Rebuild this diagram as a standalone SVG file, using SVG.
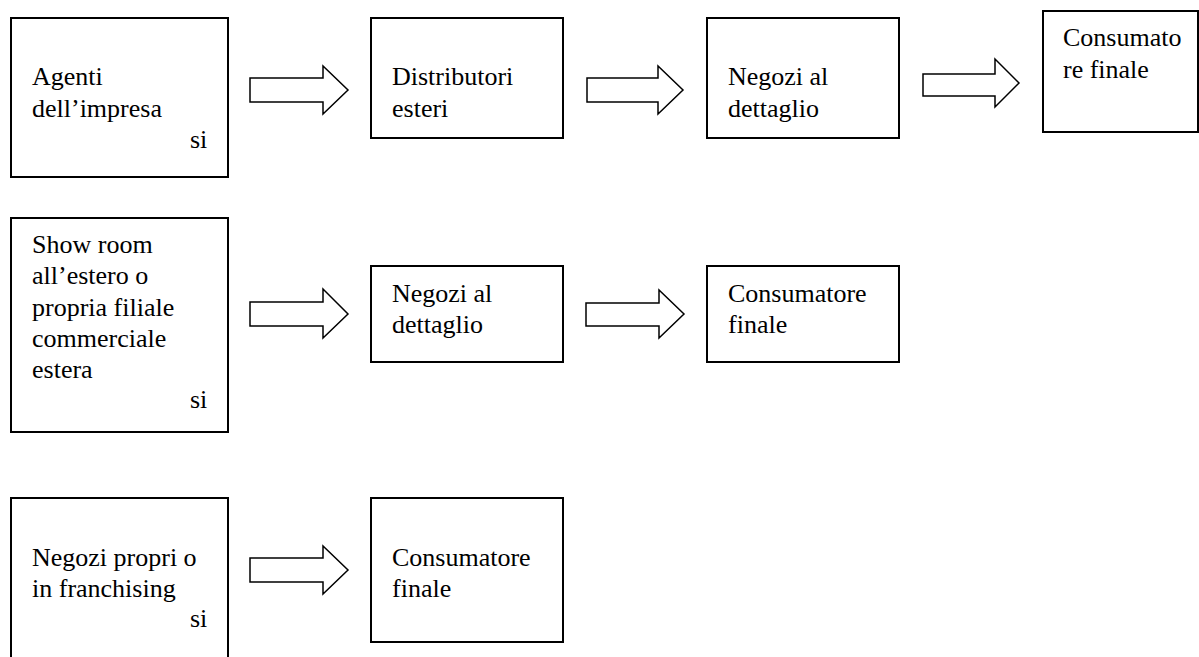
<svg xmlns="http://www.w3.org/2000/svg" width="1199" height="657" viewBox="0 0 1199 657">
<style>
.box{fill:#fff;stroke:#000;stroke-width:2}
.arr{fill:#fff;stroke:#000;stroke-width:1.5;stroke-linejoin:miter}
text{font-family:"Times New Roman","Liberation Serif",Tinos,"Noto Serif","DejaVu Serif",FreeSerif,serif;font-size:26px;fill:#000}
</style>
<rect x="0" y="0" width="1199" height="657" fill="#fff"/>
<g id="n1"><rect class="box" x="11" y="18" width="217" height="159"/><text x="32" y="85">Agenti</text><text x="32" y="117">dell’impresa</text><text x="190" y="148">si</text></g>
<g id="n2"><rect class="box" x="371" y="18" width="192" height="120"/><text x="392" y="85">Distributori</text><text x="392" y="117">esteri</text></g>
<g id="n3"><rect class="box" x="707" y="18" width="192" height="120"/><text x="728" y="85">Negozi al</text><text x="728" y="117">dettaglio</text></g>
<g id="n4"><rect class="box" x="1043" y="11" width="155" height="121"/><text x="1063" y="46">Consumato</text><text x="1063" y="78">re finale</text></g>
<g id="n5"><rect class="box" x="11" y="218" width="217" height="214"/><text x="32" y="253">Show room</text><text x="32" y="284">all’estero o</text><text x="32" y="316">propria filiale</text><text x="32" y="347">commerciale</text><text x="32" y="378">estera</text><text x="190" y="408">si</text></g>
<g id="n6"><rect class="box" x="371" y="266" width="192" height="96"/><text x="392" y="302">Negozi al</text><text x="392" y="333">dettaglio</text></g>
<g id="n7"><rect class="box" x="707" y="266" width="192" height="96"/><text x="728" y="302">Consumatore</text><text x="728" y="333">finale</text></g>
<g id="n8"><rect class="box" x="11" y="498" width="217" height="200"/><text x="32" y="566">Negozi propri o</text><text x="32" y="597">in franchising</text><text x="190" y="627">si</text></g>
<g id="n9"><rect class="box" x="371" y="498" width="192" height="144"/><text x="392" y="566">Consumatore</text><text x="392" y="597">finale</text></g>
<g id="connectors">
<polygon class="arr" points="250,78 323,78 323,66 348,90 323,114 323,102 250,102"/>
<polygon class="arr" points="587,78 658,78 658,66 683,90 658,114 658,102 587,102"/>
<polygon class="arr" points="923,74 995,74 995,59 1019,83 995,107 995,96 923,96"/>
<polygon class="arr" points="250,302 323,302 323,289 348,314 323,338 323,326 250,326"/>
<polygon class="arr" points="586,303 659,303 659,290 684,314 659,338 659,326 586,326"/>
<polygon class="arr" points="250,558 323,558 323,546 348,570 323,594 323,582 250,582"/>
</g>
</svg>
